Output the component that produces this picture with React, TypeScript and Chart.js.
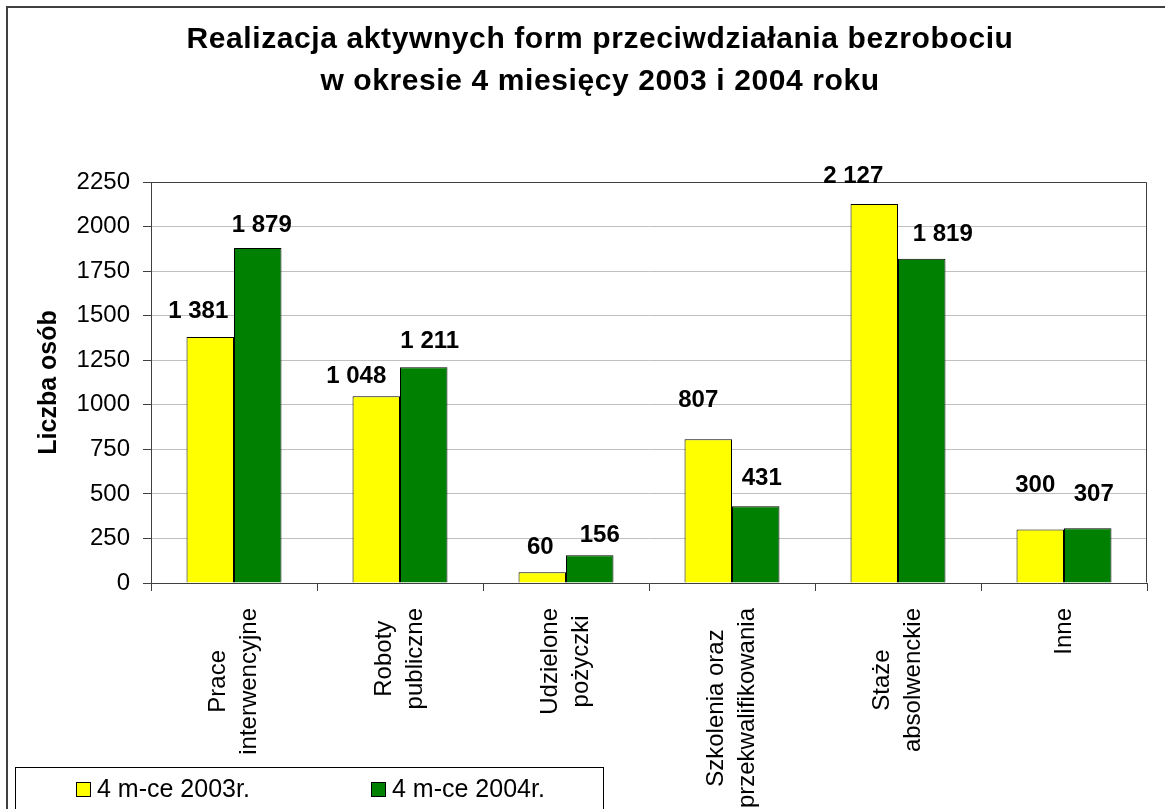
import React, { useEffect, useRef } from 'react';
import { Chart, registerables } from 'chart.js';

Chart.register(...registerables);

// ---- data ----
const titleLines = [
  'Realizacja aktywnych form przeciwdziałania bezrobociu',
  'w okresie 4 miesięcy 2003 i 2004 roku',
];
const yAxisTitle = 'Liczba osób';
const categories: string[][] = [
  ['Prace', 'interwencyjne'],
  ['Roboty', 'publiczne'],
  ['Udzielone', 'pożyczki'],
  ['Szkolenia oraz', 'przekwalifikowania'],
  ['Staże', 'absolwenckie'],
  ['Inne'],
];
const seriesNames = ['4 m-ce 2003r.', '4 m-ce 2004r.'];
const values2003 = [1381, 1048, 60, 807, 2127, 300];
const values2004 = [1879, 1211, 156, 431, 1819, 307];
const yMin = 0;
const yMax = 2250;
const yStep = 250;

// ---- styling (label nudges relative to bar top-centre, in px) ----
const nudge2003 = [[-12, -26], [-20, -20], [-2, -25], [-10, -39], [-21, -28], [-5, -44]];
const nudge2004 = [[4, -23], [6, -26], [10, -20], [6, -28], [21, -24], [6, -34]];
const seriesColors = ['#FFFF00', '#008000'];
const FONT = '"Liberation Sans", Arial, Helvetica, sans-serif';
const AXIS = '#404040';

const fmt = (v: number) => String(v).replace(/\B(?=(\d{3})+(?!\d))/g, ' ');

const decorPlugin = {
  id: 'decor',
  afterDraw(chart: any) {
    const { ctx, chartArea } = chart;
    ctx.save();

    // plot area border
    ctx.strokeStyle = AXIS;
    ctx.lineWidth = 1;
    const l = Math.round(chartArea.left) + 0.5;
    const t = Math.round(chartArea.top) + 0.5;
    const r = Math.round(chartArea.right) - 0.5;
    const b = Math.round(chartArea.bottom) - 0.5;
    ctx.beginPath();
    ctx.moveTo(l, b);
    ctx.lineTo(l, t);
    ctx.lineTo(r, t);
    ctx.lineTo(r, b);
    ctx.stroke();

    // title
    ctx.fillStyle = '#000';
    ctx.font = `bold 30px ${FONT}`;
    ctx.textAlign = 'center';
    ctx.textBaseline = 'alphabetic';
    try { (ctx as any).letterSpacing = '0.6px'; } catch (e) {}
    ctx.fillText(titleLines[0], 600, 48);
    ctx.fillText(titleLines[1], 600, 90);
    try { (ctx as any).letterSpacing = '0px'; } catch (e) {}

    // data labels
    ctx.font = `bold 24px ${FONT}`;
    ctx.textBaseline = 'middle';
    ctx.textAlign = 'center';
    const nudges = [nudge2003, nudge2004];
    chart.data.datasets.forEach((ds: any, i: number) => {
      const meta = chart.getDatasetMeta(i);
      meta.data.forEach((bar: any, j: number) => {
        const [dx, dy] = nudges[i][j];
        ctx.fillText(fmt(ds.data[j]), bar.x + dx, bar.y + dy);
      });
    });

    // category labels (rotated, lines centred)
    const xs = chart.scales.x;
    ctx.font = `24px ${FONT}`;
    const lh = 31;
    categories.forEach((lines, j) => {
      const cx = xs.getPixelForValue(j);
      const maxW = Math.max(...lines.map((s) => ctx.measureText(s).width));
      const cy = 608 + maxW / 2;
      ctx.save();
      ctx.translate(cx, cy);
      ctx.rotate(-Math.PI / 2);
      ctx.textAlign = 'center';
      ctx.textBaseline = 'middle';
      lines.forEach((s, k) => {
        ctx.fillText(s, 0, (k - (lines.length - 1) / 2) * lh);
      });
      ctx.restore();
    });

    // legend
    ctx.fillStyle = '#fff';
    ctx.fillRect(15, 767, 589, 60);
    ctx.strokeStyle = '#000';
    ctx.lineWidth = 1;
    ctx.strokeRect(15.5, 767.5, 588, 60);
    const legX = [76, 371];
    ctx.font = `25px ${FONT}`;
    ctx.textAlign = 'left';
    ctx.textBaseline = 'middle';
    seriesNames.forEach((name, i) => {
      ctx.fillStyle = seriesColors[i];
      ctx.fillRect(legX[i], 782, 14, 14);
      ctx.strokeStyle = '#000';
      ctx.strokeRect(legX[i] + 0.5, 782.5, 14, 14);
      ctx.fillStyle = '#000';
      ctx.fillText(name, legX[i] + 21, 790);
    });

    // outer frame
    ctx.strokeStyle = AXIS;
    ctx.lineWidth = 2;
    ctx.strokeRect(7, 7, 1200, 900);

    ctx.restore();
  },
};

export default function App() {
  const ref = useRef<HTMLCanvasElement>(null);

  useEffect(() => {
    if (!ref.current) return;
    const chart = new Chart(ref.current, {
      type: 'bar',
      data: {
        labels: categories.map((c) => c.join(' ')),
        datasets: [
          {
            label: seriesNames[0],
            data: values2003,
            backgroundColor: seriesColors[0],
            borderColor: '#000',
            borderWidth: 1,
            categoryPercentage: 0.572,
            barPercentage: 1,
          },
          {
            label: seriesNames[1],
            data: values2004,
            backgroundColor: seriesColors[1],
            borderColor: '#000',
            borderWidth: 1,
            categoryPercentage: 0.572,
            barPercentage: 1,
          },
        ],
      },
      options: {
        animation: false,
        responsive: false,
        devicePixelRatio: 1,
        layout: { padding: { top: 182, right: 18, left: 0, bottom: 0 } },
        plugins: {
          legend: { display: false },
          title: { display: false },
          tooltip: { enabled: false },
        },
        scales: {
          x: {
            type: 'category',
            offset: true,
            grid: {
              display: true,
              drawOnChartArea: false,
              drawTicks: true,
              tickLength: 8,
              tickColor: AXIS,
              offset: true,
            },
            border: { display: true, color: AXIS, width: 1 },
            ticks: { display: false },
            afterFit: (s: any) => {
              s.height = 226;
            },
          },
          y: {
            min: yMin,
            max: yMax,
            ticks: {
              stepSize: yStep,
              autoSkip: false,
              callback: (v: any) => String(v),
              font: { family: FONT, size: 24 },
              color: '#000',
              padding: 13,
            },
            grid: {
              color: '#c0c0c0',
              tickColor: AXIS,
              tickLength: 8,
              lineWidth: 1,
            },
            border: { display: true, color: AXIS, width: 1 },
            title: {
              display: true,
              text: yAxisTitle,
              color: '#000',
              font: { family: FONT, size: 25, weight: 'bold' },
              padding: { top: 34, bottom: 0 },
            },
            afterFit: (s: any) => {
              s.width = 151;
            },
          },
        },
      } as any,
      plugins: [decorPlugin],
    });
    return () => chart.destroy();
  }, []);

  return (
    <div style={{ position: 'fixed', left: 0, top: 0, width: 1165, height: 809, background: '#fff' }}>
      <canvas ref={ref} width={1165} height={809} style={{ display: 'block', width: 1165, height: 809 }} />
    </div>
  );
}
